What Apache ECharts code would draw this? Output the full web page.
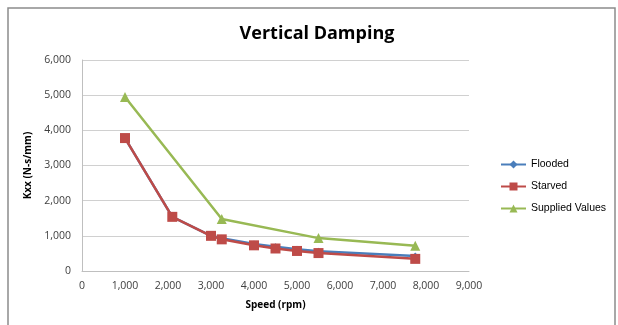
<!DOCTYPE html>
<html><head><meta charset="utf-8">
<script src="https://cdn.jsdelivr.net/npm/echarts@6/dist/echarts.min.js"></script>
<style>html,body{margin:0;padding:0;background:#fff}#c{width:618px;height:325px}</style>
</head><body><div id="c"></div>
<script>
var floodedSpeed = [1000, 2100, 3000, 3250, 4000, 4500, 5000, 5500, 7750];
var floodedValues = [3780, 1540, 1000, 930, 770, 690, 620, 560, 430];
var starvedSpeed = [1000, 2100, 3000, 3250, 4000, 4500, 5000, 5500, 7750];
var starvedValues = [3780, 1540, 1000, 900, 730, 640, 570, 510, 345];
var suppliedSpeed = [1000, 3250, 5500, 7750];
var suppliedValues = [4950, 1480, 935, 715];
var xTicks = [0, 1000, 2000, 3000, 4000, 5000, 6000, 7000, 8000, 9000];
var yTicks = [0, 1000, 2000, 3000, 4000, 5000, 6000];

function pairs(xs, ys){ return xs.map(function(x,i){ return [x, ys[i]]; }); }
var fmt = function(v){ return v.toLocaleString('en-US'); };
var font = 'Open Sans';

var chart = echarts.init(document.getElementById('c'), null, {renderer:'canvas'});
chart.setOption({
  animation: false,
  backgroundColor: '#fff',
  title: {
    text: 'Vertical Damping', left: 312, top: 20, textAlign: 'center',
    textStyle: {fontFamily: font, fontSize: 18, fontWeight: 'bold', color: '#000'}
  },
  graphic: [{
    type: 'rect', shape: {x: 8, y: 8, width: 607, height: 330},
    style: {fill: 'none', stroke: '#8c8c8c', lineWidth: 1.5}, silent: true
  }],
  grid: {left: 82, right: 149, top: 60, bottom: 54},
  legend: {
    orient: 'vertical', left: 495, top: 154, itemGap: 11, padding: 5,
    itemWidth: 25, itemHeight: 10,
    textStyle: {fontFamily: 'Liberation Sans', fontSize: 10.5, color: '#000'},
    data: ['Flooded', 'Starved', 'Supplied Values']
  },
  xAxis: {
    type: 'value', min: 0, max: 9000, interval: 1000,
    name: 'Speed (rpm)', nameLocation: 'middle', nameGap: 29,
    nameTextStyle: {fontFamily: font, fontSize: 10, fontWeight: 'bold', color: '#000'},
    axisLine: {show: true, lineStyle: {color: '#bfbfbf'}},
    axisTick: {show: false},
    splitLine: {show: false},
    axisLabel: {fontFamily: font, fontSize: 10.5, color: '#404040', margin: 10, formatter: fmt}
  },
  yAxis: {
    type: 'value', min: 0, max: 6000, interval: 1000,
    name: 'Kxx (N-s/mm)', nameLocation: 'middle', nameGap: 41, nameRotate: 90,
    nameTextStyle: {fontFamily: font, fontSize: 10, fontWeight: 'bold', color: '#000'},
    axisLine: {show: true, lineStyle: {color: '#bfbfbf'}},
    axisTick: {show: false},
    splitLine: {show: true, lineStyle: {color: '#d0d0d0'}},
    axisLabel: {fontFamily: font, fontSize: 10.5, color: '#404040', margin: 11, formatter: fmt}
  },
  series: [
    {name: 'Flooded', type: 'line', data: pairs(floodedSpeed, floodedValues),
     symbol: 'diamond', symbolSize: 7, color: '#4a7ebb',
     lineStyle: {width: 2.5, color: '#4a7ebb'}, itemStyle: {color: '#4a7ebb'}},
    {name: 'Starved', type: 'line', data: pairs(starvedSpeed, starvedValues),
     symbol: 'rect', symbolSize: 10, color: '#be4b48',
     lineStyle: {width: 2.5, color: '#be4b48'}, itemStyle: {color: '#be4b48'}},
    {name: 'Supplied Values', type: 'line', data: pairs(suppliedSpeed, suppliedValues),
     symbol: 'triangle', symbolSize: 10, color: '#98b954',
     lineStyle: {width: 2.5, color: '#98b954'}, itemStyle: {color: '#98b954'}}
  ]
});
</script></body></html>
